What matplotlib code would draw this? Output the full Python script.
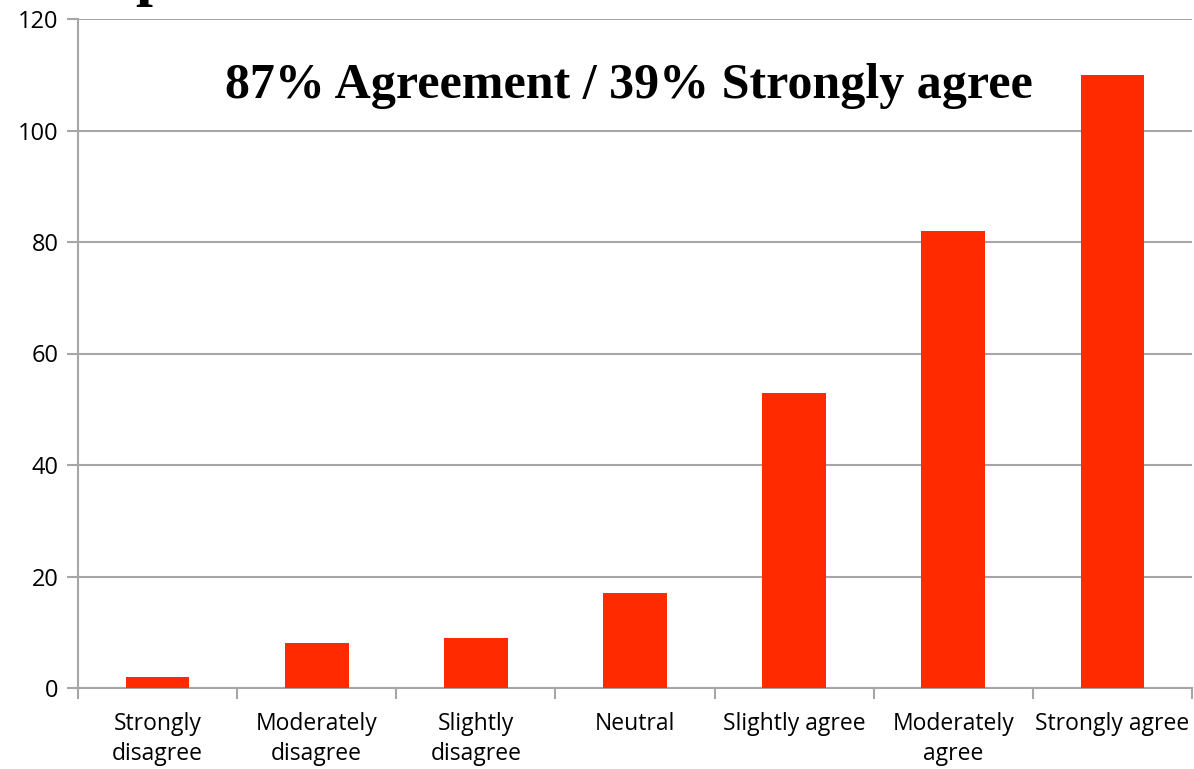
import matplotlib
matplotlib.use("Agg")
import matplotlib.pyplot as plt
import numpy as np

categories = ["Strongly\ndisagree", "Moderately\ndisagree", "Slightly\ndisagree",
              "Neutral", "Slightly agree", "Moderately\nagree", "Strongly agree"]
counts = [2, 8, 9, 17, 53, 82, 110]
yticks = [0, 20, 40, 60, 80, 100, 120]
headline = "87% Agreement / 39% Strongly agree"

fig = plt.figure(figsize=(11.94, 7.69), dpi=100)
ax = fig.add_axes([78 / 1194, 81 / 769, 1114 / 1194, 669 / 769])

x = np.arange(len(categories))
ax.bar(x, counts, width=0.4, color="#ff2a00", zorder=3)

ax.set_xlim(-0.5, len(categories) - 0.5)
ax.set_ylim(0, 120)
ax.set_yticks(yticks)
ax.yaxis.grid(True, color="#a6a6a6", linewidth=1.5, zorder=0)

# category labels between boundary ticks
ax.set_xticks(np.arange(len(categories) + 1) - 0.5)
ax.set_xticklabels([])
ax.set_xticks(x, minor=True)
ax.set_xticklabels(categories, minor=True, fontsize=16.5, family="Open Sans",
                   linespacing=1.35)
ax.tick_params(axis="x", which="minor", length=0, pad=17)
ax.tick_params(axis="x", which="major", length=8, width=1.5, color="#a6a6a6")
ax.tick_params(axis="y", length=8, width=1.5, color="#a6a6a6", labelsize=17, pad=6)
for lbl in ax.get_yticklabels():
    lbl.set_family("Open Sans")

for side in ["top", "right"]:
    ax.spines[side].set_visible(False)
for side in ["left", "bottom"]:
    ax.spines[side].set_color("#a6a6a6")
    ax.spines[side].set_linewidth(1.5)

ax.text(0.4945, 0.90, headline, transform=ax.transAxes, ha="center", va="center",
        fontsize=36, fontweight="bold", family="Liberation Serif")

# clipped piece of a slide title above the chart
fig.text(0.113, 1.008, "p", fontsize=44, fontweight="bold",
         family="Liberation Serif", va="baseline")

fig.savefig("out.png", dpi=100)
